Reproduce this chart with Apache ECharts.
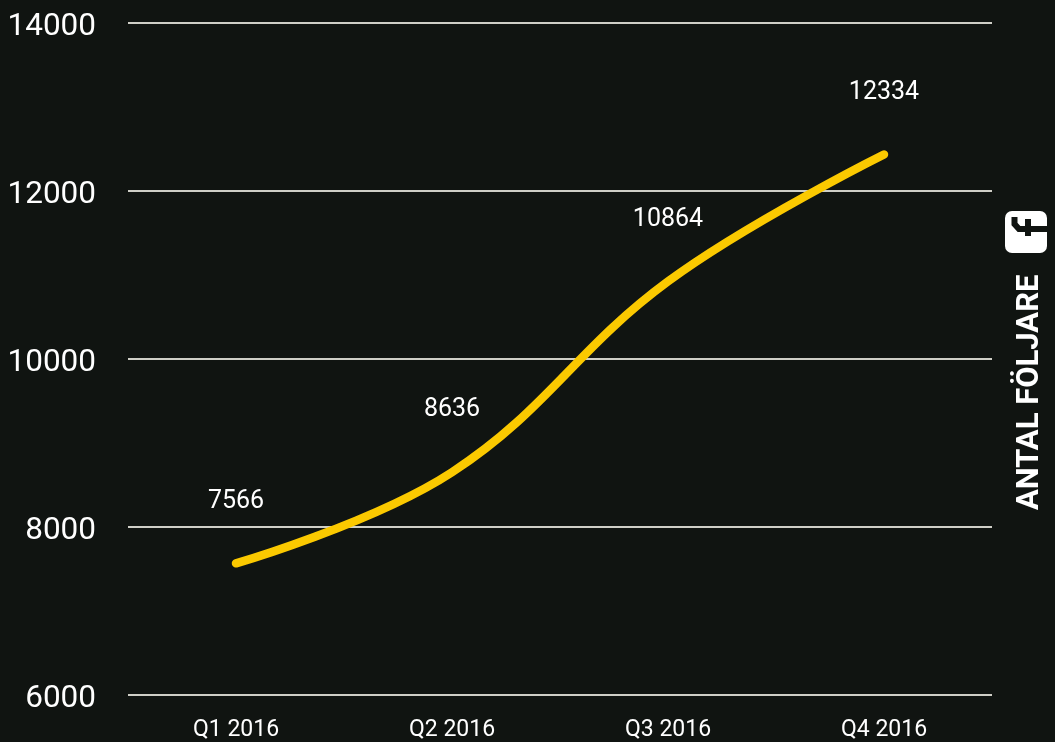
<!DOCTYPE html>
<html lang="sv">
<head>
	<meta charset="UTF-8">
	<title>Antal följare</title>
	<script src="https://cdn.jsdelivr.net/npm/echarts@6/dist/echarts.min.js"></script>
	<style>html,body{margin:0;padding:0;background:#101411;overflow:hidden}</style>
</head>
<body>
	<div id="main" style="width:1055px;height:742px;"></div>
	<script type="text/javascript">
		var quarters = ['Q1 2016', 'Q2 2016', 'Q3 2016', 'Q4 2016'];
		// printed labels; the drawn line sits a little off them in the picture
		var printedLabels = ['7566', '8636', '10864', '12334'];
		var lineValues = [7566, 8650, 10920, 12430];
		var yTicks = [6000, 8000, 10000, 12000, 14000];
		var fontName = 'Roboto, sans-serif';

		var myChart = echarts.init(document.getElementById('main'));
		myChart.setOption({
			backgroundColor: '#101411',
			animation: false,
			grid: { left: 128, right: 63, top: 22.5, bottom: 46.5 },
			xAxis: {
				type: 'category',
				data: quarters,
				axisLine: { show: false },
				axisTick: { show: false },
				axisLabel: { color: '#fff', fontSize: 23, fontFamily: fontName, margin: 24 }
			},
			yAxis: {
				type: 'value',
				min: yTicks[0],
				max: yTicks[yTicks.length - 1],
				interval: 2000,
				axisLine: { show: false },
				axisTick: { show: false },
				axisLabel: {
					margin: 32,
					formatter: function (v) { return '{t|' + v + '}'; },
					// top padding pushes the digits a few px below the grid line
					rich: { t: { color: '#fff', fontSize: 31.5, fontFamily: fontName, padding: [9, 0, 0, 0] } }
				},
				splitLine: { lineStyle: { color: '#cfcfc7', width: 2 } }
			},
			series: [{
				type: 'line',
				data: lineValues,
				smooth: 0.4,
				symbol: 'circle',
				symbolSize: 1,
				itemStyle: { color: '#fbc900' },
				lineStyle: { color: '#fbc900', width: 8.5, cap: 'round' },
				label: {
					show: true,
					position: 'top',
					distance: 49,
					color: '#fff',
					fontSize: 25,
					fontFamily: fontName,
					formatter: function (p) { return printedLabels[p.dataIndex]; }
				}
			}],
			graphic: [{
				type: 'text',
				x: 1015,
				y: 510,
				rotation: Math.PI / 2,
				style: {
					text: 'ANTAL FÖLJARE', fill: '#fff', font: 'bold 31px ' + fontName,
					textAlign: 'left', textVerticalAlign: 'top'
				}
			}, {
				type: 'rect',
				shape: { x: 1005, y: 211, width: 42, height: 42, r: 7 },
				style: { fill: '#fff' }
			}, {
				type: 'polyline',
				shape: { points: [[1014.5, 217], [1014.5, 224], [1019, 229], [1047, 229]] },
				style: { fill: null, stroke: '#101411', lineWidth: 6 }
			}, {
				type: 'line',
				shape: { x1: 1028, y1: 219, x2: 1028, y2: 236 },
				style: { stroke: '#101411', lineWidth: 6 }
			}]
		});
	</script>
</body>
</html>
